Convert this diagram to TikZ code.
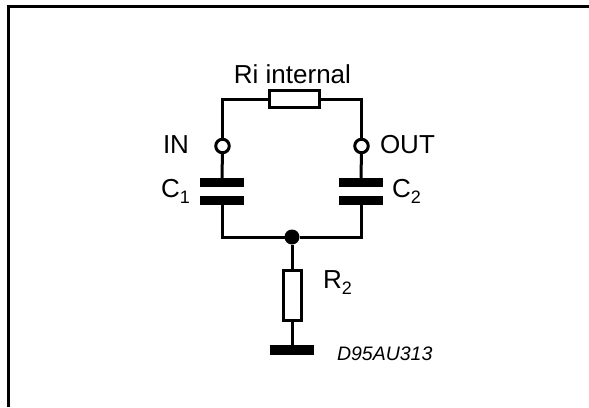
\documentclass[tikz,border=0pt]{standalone}
\usepackage{fontspec}
\setmainfont{Liberation Sans}
\usetikzlibrary{positioning}
\newcommand{\subidx}[1]{\raisebox{-6pt}{\fontsize{18}{18}\selectfont #1}}

\begin{document}
\begin{tikzpicture}[x=1pt, y=-1pt, line width=3pt, outer sep=0pt]
\tikzstyle{resistor} = [rectangle, draw, fill=white, inner sep=0pt]
\tikzstyle{plate} = [rectangle, fill=black, inner sep=0pt, minimum width=44pt, minimum height=9pt]
\tikzstyle{terminal} = [circle, draw, fill=white, inner sep=0pt, minimum size=13.5pt]
\tikzstyle{label} = [inner sep=0pt, font=\fontsize{26}{26}\selectfont]

\useasboundingbox (0,0) rectangle (589,407);

% frame, top and left side only
\coordinate (framebl) at (8.5,407);
\coordinate (frametr) at (589,6.5);
\draw (framebl) |- (frametr);

\node (ri) [resistor, minimum width=50pt, minimum height=17pt] at (294.5,99) {};
\node (in) [terminal] at (222.5,146) {};
\node (out) [terminal] at (361.5,146) {};
\node (c1a) [plate] at (222,182.5) {};
\node (c1b) [plate] at (222,200.5) {};
\node (c2a) [plate] at (361,182.5) {};
\node (c2b) [plate] at (361,200.5) {};
\node (junction) [circle, fill=black, inner sep=0pt, minimum size=15pt] at (292,237) {};
\node (r2) [resistor, minimum width=18pt, minimum height=50pt] at (292,295.5) {};
\node (gnd) [rectangle, fill=black, inner sep=0pt, minimum width=44pt, minimum height=10pt] at (292,350) {};

\node (rilabel) [label] at (292.5,74) {Ri internal};
\node (inlabel) [label, anchor=west] at (163,145) {IN};
\node (outlabel) [label, anchor=west] at (380,145) {OUT};
\node (c1label) [label, anchor=west] at (161,191) {C\subidx{1}};
\node (c2label) [label, anchor=west] at (392,191) {C\subidx{2}};
\node (r2label) [label, anchor=west] at (323,283) {R\subidx{2}};
\node (code) [inner sep=0pt, anchor=west, font=\fontsize{19.5}{19.5}\selectfont\itshape] at (337,354) {D95AU313};

% Draw wires
\draw (in) |- (ri);
\draw (ri) -| (out);
\draw (in) -- (c1a);
\draw (out) -- (c2a);
\draw (c1b) |- (junction);
\draw (c2b) |- (junction);
\draw (junction) -- (r2);
\draw (r2) -- (gnd);

\end{tikzpicture}
\end{document}
